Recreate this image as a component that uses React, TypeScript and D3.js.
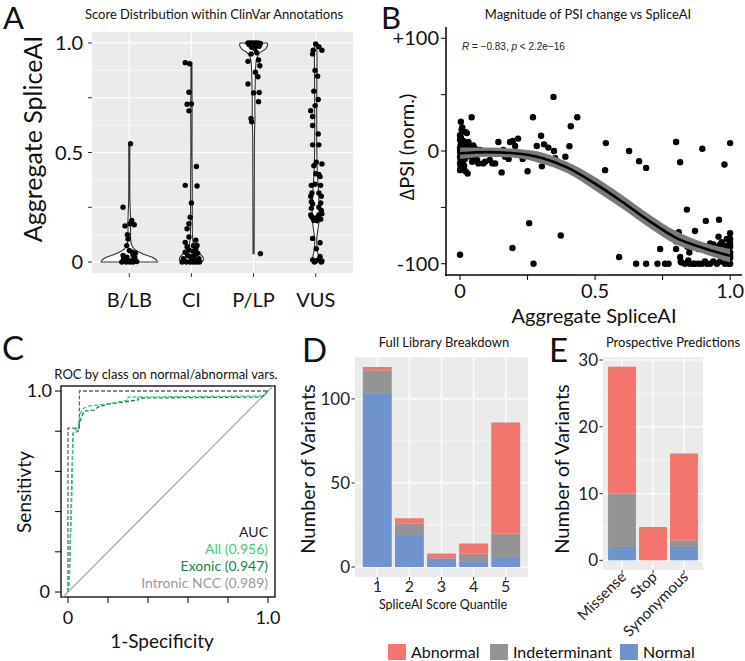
import React, { useEffect, useRef } from 'react';
import * as d3 from 'd3';

const W = 745, H = 661;
const FONT = 'Lato, "Open Sans", sans-serif';

// ---- A: violin of SpliceAI scores per ClinVar class
const clinvarCats = ['B/LB', 'CI', 'P/LP', 'VUS'];
// [jitter offset (category units), score]
const blbPoints = [[0.02,0.54],[-0.1,0.25],[0.04,0.19],[0.01,0.175],[-0.07,0.165],[0.08,0.17],[-0.03,0.125],[-0.02,0.105],[-0.04,0.075],[0,0.053],[0.05,0.045],[-0.1,0.03],[-0.04,0.022],[0.06,0.03],[0.1,0.04],[-0.08,0.01],[-0.02,0.008],[0.03,0.005],[0.08,0.008],[-0.12,0],[0.01,0],[-0.05,0],[0.06,0],[0.12,0.002],[-0.09,0.015],[0.09,0.02]];
const ciPoints = [[-0.1,0.91],[-0.03,0.905],[-0.04,0.775],[-0.07,0.72],[0,0.722],[-0.04,0.69],[0.08,0.436],[-0.1,0.35],[0.09,0.347],[0,0.27],[-0.02,0.205],[-0.04,0.175],[-0.07,0.152],[-0.04,0.114],[-0.1,0.09],[0.07,0.1],[0.09,0.076],[-0.07,0.07],[0.03,0.075],[0.07,0.06],[-0.04,0.055],[0.02,0.05],[-0.1,0.045],[0.1,0.04],[-0.06,0.03],[-0.02,0.025],[0.05,0.03],[-0.13,0.015],[0.12,0.015],[-0.15,0],[-0.08,0],[-0.02,0],[0.03,0],[0.08,0],[0.13,0],[-0.11,0.005],[0.06,0.008],[0,0.01]];
const plpPoints = [[-0.09,1],[-0.05,1],[-0.01,1],[0.03,1],[0.07,1],[0.11,0.998],[-0.07,0.992],[0,0.99],[0.05,0.99],[0.09,0.985],[-0.03,0.98],[0.02,0.975],[-0.04,0.95],[0.05,0.955],[-0.09,0.916],[0.08,0.922],[0.1,0.896],[0.03,0.866],[0.07,0.846],[-0.09,0.813],[0,0.772],[0.09,0.774],[0.08,0.732],[-0.04,0.655],[-0.03,0.64],[0.11,0.038]];
const vusPoints = [[0,0.995],[-0.04,0.967],[-0.05,0.95],[0.05,0.983],[0.1,0.967],[-0.01,0.874],[0.03,0.848],[-0.03,0.78],[0.04,0.742],[-0.01,0.714],[-0.08,0.691],[-0.05,0.664],[-0.05,0.623],[0.04,0.585],[-0.05,0.535],[0.05,0.535],[0.01,0.456],[0.1,0.448],[-0.03,0.44],[0,0.403],[0.05,0.4],[0.07,0.39],[-0.07,0.35],[-0.01,0.355],[0.08,0.35],[-0.06,0.315],[-0.08,0.3],[0.05,0.315],[0.09,0.3],[-0.07,0.275],[0.08,0.27],[-0.05,0.265],[-0.07,0.245],[0.05,0.25],[0.09,0.235],[-0.08,0.215],[-0.06,0.205],[-0.01,0.2],[0.03,0.205],[0.05,0.215],[0.1,0.22],[0.08,0.195],[-0.03,0.19],[0.02,0.188],[-0.05,0.108],[0.07,0.088],[0.01,0.061],[-0.05,0.01],[0,0.005],[0.05,0.012],[0.1,0.005],[0.07,0.025],[0.09,0],[-0.02,0]];
// [score, half width as fraction of max]
const blbViolin = [[0,1],[0.01,0.97],[0.02,0.85],[0.03,0.64],[0.04,0.44],[0.05,0.28],[0.06,0.17],[0.08,0.08],[0.1,0.05],[0.15,0.045],[0.2,0.045],[0.25,0.03],[0.3,0.02],[0.4,0.018],[0.54,0.018]];
const ciViolin = [[0,0.36],[0.008,0.42],[0.02,0.42],[0.035,0.32],[0.05,0.2],[0.068,0.1],[0.09,0.06],[0.115,0.04],[0.2,0.03],[0.35,0.03],[0.5,0.02],[0.7,0.025],[0.8,0.02],[0.91,0.018]];
const plpViolin = [[0.038,0.02],[0.3,0.025],[0.6,0.035],[0.65,0.05],[0.7,0.045],[0.83,0.06],[0.9,0.08],[0.934,0.12],[0.957,0.24],[0.972,0.42],[0.99,0.5],[1,0.48]];
const vusViolin = [[0,0.1],[0.02,0.11],[0.05,0.06],[0.1,0.035],[0.15,0.08],[0.2,0.13],[0.25,0.12],[0.3,0.11],[0.35,0.09],[0.4,0.06],[0.5,0.04],[0.6,0.035],[0.8,0.04],[0.95,0.045],[0.995,0.035]];

// ---- B: delta PSI vs SpliceAI
const psiPoints = [[0.003,26],[0.006,19],[0.019,17],[0.025,16],[0.003,12],[0,10],[0.008,8],[0.003,6],[0.01,5],[0,3],[0.005,2],[0,0],[0.008,-1],[0.002,-2],[0.012,-3],[0,-5],[0.006,-6],[0.002,-8],[0.01,-9],[0,-11],[0.005,-12],[0.002,-14],[0.012,-15],[0.006,-16],[0.02,-18],[0.028,-20],[0,-17],[0.015,-13],[0.018,-7],[0.015,-4],[0.02,1],[0.018,4],[0.012,9],[0,14],[0.008,21],[0,-92],
  [0.031,8],[0.034,4],[0.043,30],[0.049,5],[0.056,2],[0.074,1],[0.056,-2],[0.04,-5],[0.055,-6.5],[0.045,-9.5],[0.068,-11],[0.086,-11],[0.093,-9.5],[0.11,-8],[0.13,-11],[0.063,-8],[0.142,8],[0.16,1],[0.154,-19],[0.12,-11],[0.167,-5],[0.18,-7],
  [0.185,8],[0.196,9],[0.215,11],[0.204,4.4],[0.179,-3],[0.214,-3],[0.232,-7],[0.25,-18],[0.27,30],[0.3,13.5],[0.284,4.4],[0.311,5.9],[0.327,3],[0.348,0],[0.352,-6.4],[0.303,-13.6],[0.346,48],[0.434,30],[0.41,22],[0.405,4.3],[0.39,-5],[0.256,-64],[0.373,-75],[0.194,-86],[0.272,-100],
  [0.54,7],[0.537,-17],[0.626,0],[0.663,-9],[0.689,-15],[0.589,-94],[0.652,-100],[0.689,-100],[0.731,-100],[0.741,-87],[0.759,-100],[0.772,-100],[0.8,8],[0.815,-10],[0.84,-52],[0.91,-62],[0.959,-61],[0.897,2],[0.979,-12],[1,7],[0.87,-71],[0.81,-72],[0.8,-80],[0.8,-87],[0.842,-85],[0.849,-90],[0.883,-87],
  [0.815,-94],[0.817,-98],[0.833,-100],[0.852,-100],[0.864,-100],[0.883,-100],[0.895,-100],[0.907,-98],[0.914,-100],[0.926,-100],[0.938,-98],[0.951,-100],[0.963,-98],[0.969,-94],[0.981,-100],[0.994,-100],[1,-95],[0.994,-91],[0.988,-78],[1,-78],[0.969,-81],[0.926,-82],[0.938,-83],[0.951,-85],[0.963,-83],[0.975,-85],[0.988,-84],[1,-85],[0.981,-89],[0.994,-88],[0.969,-91],[0.957,-89],[0.944,-89],[0.932,-87],[0.92,-89],[0.914,-86],[1,-73],[1,-82],[1,-90],[1,-93],[0.957,-76],[0.82,-99],[0.845,-97],[0.87,-100],[0.99,-97],[1,-100]];
// smoothed fit [x, fit, se]
const psiFit = [[0,-2,5],[0.1,-1,4],[0.2,-2,4],[0.3,-6,5],[0.4,-15,5],[0.5,-29,6],[0.6,-45,6],[0.7,-62,6],[0.8,-77,6],[0.9,-86,5],[1,-93,6]];

// ---- C: ROC curves
const rocAll = [[0,0],[0.005,0.03],[0.01,0.2],[0.02,0.5],[0.025,0.78],[0.03,0.8],[0.05,0.82],[0.06,0.88],[0.07,0.91],[0.1,0.925],[0.15,0.93],[0.22,0.94],[0.3,0.955],[0.3,0.97],[0.98,0.975],[1,1]];
const rocExonic = [[0,0],[0.008,0.1],[0.015,0.4],[0.025,0.79],[0.05,0.8],[0.06,0.85],[0.08,0.9],[0.13,0.905],[0.15,0.92],[0.2,0.935],[0.35,0.955],[0.35,0.965],[0.97,0.97],[1,1]];
const rocIntronic = [[0,0],[0,0.815],[0.057,0.815],[0.057,1],[1,1]];
const aucLabels = ['AUC', 'All (0.956)', 'Exonic (0.947)', 'Intronic NCC (0.989)'];

// ---- D / E: stacked counts
const quantiles = ['1', '2', '3', '4', '5'];
const libNormal = [103, 19, 5, 3, 6];
const libIndet = [14, 7, 1, 5, 14];
const libAbnormal = [2, 3, 2, 6, 66];
const predCats = ['Missense', 'Stop', 'Synonymous'];
const predNormal = [2, 0, 2];
const predIndet = [8, 0, 1];
const predAbnormal = [19, 5, 13];
const classKeys = ['Normal', 'Indeterminant', 'Abnormal'];
const classColors = ['#6F94CD', '#949494', '#F4756E'];

function App() {
  const ref = useRef(null);

  useEffect(() => {
    const svg = d3.select(ref.current);
    svg.selectAll('*').remove();

    const txt = (g, x, y, s, size, opts: any = {}) =>
      g.append('text').attr('x', x).attr('y', y).text(s)
        .attr('font-family', opts.family || FONT).attr('font-size', size)
        .attr('fill', opts.fill || '#111').attr('text-anchor', opts.anchor || 'start')
        .attr('transform', opts.rotate ? `rotate(${opts.rotate},${x},${y})` : null);

    // panel letters
    [['A', 3, 29, 31], ['B', 381, 29, 31], ['C', 2, 360, 33], ['D', 302, 362, 33], ['E', 549, 362, 33]].forEach(([l, x, y, fs]) =>
      txt(svg, x, y, l, fs));

    // ================= A =================
    {
      const g = svg.append('g');
      const x = d3.scalePoint().domain(clinvarCats).range([92, 353]).padding(0.6);
      const y = d3.scaleLinear().domain([-0.05, 1.05]).range([273, 32]);
      const step = x.step();
      g.append('rect').attr('x', 92).attr('y', 32).attr('width', 261).attr('height', 241).attr('fill', '#EBEBEB');
      [0.125, 0.375, 0.625, 0.875].forEach(v => g.append('line').attr('x1', 92).attr('x2', 353).attr('y1', y(v)).attr('y2', y(v)).attr('stroke', '#fff').attr('stroke-width', 0.6));
      [0, 0.25, 0.5, 0.75, 1].forEach(v => g.append('line').attr('x1', 92).attr('x2', 353).attr('y1', y(v)).attr('y2', y(v)).attr('stroke', '#fff').attr('stroke-width', 1.2));
      clinvarCats.forEach(c => g.append('line').attr('x1', x(c)).attr('x2', x(c)).attr('y1', 32).attr('y2', 273).attr('stroke', '#fff').attr('stroke-width', 1.2));
      [0, 0.25, 0.5, 0.75, 1].forEach(v => g.append('line').attr('x1', 88).attr('x2', 92).attr('y1', y(v)).attr('y2', y(v)).attr('stroke', '#333'));
      [[0, '0'], [0.5, '0.5'], [1, '1.0']].forEach(([v, s]) => txt(g, 83, y(v) + 7, s, 20, { anchor: 'end' }));
      clinvarCats.forEach(c => {
        g.append('line').attr('x1', x(c)).attr('x2', x(c)).attr('y1', 273).attr('y2', 277).attr('stroke', '#333');
        txt(g, x(c), 307, c, 20, { anchor: 'middle' });
      });
      txt(g, 42, 139, 'Aggregate SpliceAI', 25, { anchor: 'middle', rotate: -90 });
      txt(g, 214, 19, 'Score Distribution within ClinVar Annotations', 13, { anchor: 'middle' });

      const wScale = d3.scaleLinear().domain([0, 1]).range([0, 0.45 * step]);
      const profiles = [blbViolin, ciViolin, plpViolin, vusViolin];
      const pts = [blbPoints, ciPoints, plpPoints, vusPoints];
      clinvarCats.forEach((c, i) => {
        const cx = x(c);
        const area = d3.area().y(d => y(d[0])).x0(d => cx - wScale(d[1])).x1(d => cx + wScale(d[1])).curve(d3.curveCatmullRom);
        g.append('path').attr('d', area(profiles[i])).attr('fill', '#fff').attr('stroke', '#333').attr('stroke-width', 1.1);
      });
      clinvarCats.forEach((c, i) => {
        g.selectAll(null).data(pts[i]).enter().append('circle')
          .attr('cx', d => x(c) + d[0] * step).attr('cy', d => y(d[1])).attr('r', 2.7).attr('fill', '#000');
      });
    }

    // ================= B =================
    {
      const g = svg.append('g');
      const x = d3.scaleLinear().domain([-0.052, 1.044]).range([446, 742]);
      const y = d3.scaleLinear().domain([-110, 110]).range([275, 27]);
      const band = d3.area().x(d => x(d[0])).y0(d => y(d[1] - d[2])).y1(d => y(d[1] + d[2])).curve(d3.curveMonotoneX);
      const fit = d3.line().x(d => x(d[0])).y(d => y(d[1])).curve(d3.curveMonotoneX);
      g.selectAll(null).data(psiPoints).enter().append('circle')
        .attr('cx', d => x(d[0])).attr('cy', d => y(d[1])).attr('r', 3.2).attr('fill', '#000');
      g.append('path').attr('d', band(psiFit)).attr('fill', '#7a7a7a');
      g.append('path').attr('d', fit(psiFit)).attr('fill', 'none').attr('stroke', '#000').attr('stroke-width', 2.6);
      g.append('line').attr('x1', 446).attr('x2', 446).attr('y1', 27).attr('y2', 276).attr('stroke', '#000').attr('stroke-width', 1.5);
      g.append('line').attr('x1', 445).attr('x2', 742).attr('y1', 275).attr('y2', 275).attr('stroke', '#000').attr('stroke-width', 1.5);
      [-100, -50, 0, 50, 100].forEach(v => g.append('line').attr('x1', 441).attr('x2', 446).attr('y1', y(v)).attr('y2', y(v)).attr('stroke', '#000'));
      [[-100, '-100'], [0, '0'], [100, '+100']].forEach(([v, s]) => txt(g, 439, y(v) + 7, s, 20, { anchor: 'end' }));
      [0, 0.25, 0.5, 0.75, 1].forEach(v => g.append('line').attr('x1', x(v)).attr('x2', x(v)).attr('y1', 275).attr('y2', 280).attr('stroke', '#000'));
      [[0, '0'], [0.5, '0.5'], [1, '1.0']].forEach(([v, s]) => txt(g, x(v), 298, s, 20, { anchor: 'middle' }));
      txt(g, 594, 323, 'Aggregate SpliceAI', 20, { anchor: 'middle' });
      txt(g, 414, 147, '\u2206PSI (norm.)', 20, { anchor: 'middle', rotate: -90 });
      txt(g, 588, 19, 'Magnitude of PSI change vs SpliceAI', 13, { anchor: 'middle' });
      const t = g.append('text').attr('x', 462).attr('y', 50).attr('font-family', '"Liberation Sans", Arial, sans-serif').attr('font-size', 10).attr('fill', '#222');
      t.append('tspan').attr('font-style', 'italic').text('R');
      t.append('tspan').text(' = \u22120.83, ');
      t.append('tspan').attr('font-style', 'italic').text('p');
      t.append('tspan').text(' < 2.2e\u221216');
    }

    // ================= C =================
    {
      const g = svg.append('g');
      const x = d3.scaleLinear().domain([0, 1]).range([68, 268]);
      const y = d3.scaleLinear().domain([0, 1]).range([592, 391]);
      g.append('rect').attr('x', 61).attr('y', 386).attr('width', 214).attr('height', 211).attr('fill', '#fff').attr('stroke', '#000').attr('stroke-width', 1.3);
      g.append('line').attr('x1', x(-0.025)).attr('y1', y(-0.025)).attr('x2', x(1.025)).attr('y2', y(1.025)).attr('stroke', '#aaa').attr('stroke-width', 1.3);
      const line = d3.line().x(d => x(d[0])).y(d => y(d[1]));
      [[rocIntronic, '#666'], [rocExonic, '#1E8050'], [rocAll, '#3CCB78']].forEach(([data, col]) =>
        g.append('path').attr('d', line(data)).attr('fill', 'none').attr('stroke', col).attr('stroke-width', 1.3).attr('stroke-dasharray', '4,2'));
      d3.range(0, 1.01, 0.2).forEach(v => {
        g.append('line').attr('x1', 55).attr('x2', 61).attr('y1', y(v)).attr('y2', y(v)).attr('stroke', '#000');
        g.append('line').attr('x1', x(v)).attr('x2', x(v)).attr('y1', 597).attr('y2', 603).attr('stroke', '#000');
      });
      txt(g, 52, y(1) + 6, '1.0', 18, { anchor: 'end' });
      txt(g, 50, y(0) + 6, '0', 18, { anchor: 'end' });
      txt(g, x(0), 624, '0', 18, { anchor: 'middle' });
      txt(g, x(1), 624, '1.0', 18, { anchor: 'middle' });
      txt(g, 162, 648, '1-Specificity', 19, { anchor: 'middle' });
      txt(g, 31, 492, 'Sensitivty', 19, { anchor: 'middle', rotate: -90 });
      txt(g, 166, 379, 'ROC by class on normal/abnormal vars.', 13, { anchor: 'middle' });
      const cols = ['#222', '#3CCB78', '#1E7E4A', '#9a9a9a'];
      aucLabels.forEach((s, i) => txt(g, 268, 537 + i * 17, s, 14, { anchor: 'end', fill: cols[i] }));
    }

    // ================= D / E =================
    const stacked = (g, cats, series, x0, x1, y0, y1, pad, minorStep, majorStep) => {
      const rows = cats.map((c, i) => ({ cat: c, Normal: series[0][i], Indeterminant: series[1][i], Abnormal: series[2][i] }));
      const layers = d3.stack().keys(classKeys)(rows);
      const maxV = d3.max(rows, r => r.Normal + r.Indeterminant + r.Abnormal);
      const x = d3.scaleBand().domain(cats).range([x0, x1]).paddingInner(0.1).paddingOuter(pad);
      const y = d3.scaleLinear().domain([-0.05 * maxV, maxV * 1.05]).range([y1, y0]);
      g.append('rect').attr('x', x0).attr('y', y0).attr('width', x1 - x0).attr('height', y1 - y0).attr('fill', '#EBEBEB');
      d3.range(0, maxV * 1.05, minorStep).forEach(v => g.append('line').attr('x1', x0).attr('x2', x1).attr('y1', y(v)).attr('y2', y(v))
        .attr('stroke', '#fff').attr('stroke-width', v % majorStep === 0 ? 1.2 : 0.6));
      cats.forEach(c => g.append('line').attr('x1', x(c) + x.bandwidth() / 2).attr('x2', x(c) + x.bandwidth() / 2).attr('y1', y0).attr('y2', y1).attr('stroke', '#fff').attr('stroke-width', 1.2));
      layers.forEach((layer, k) => {
        g.selectAll(null).data(layer).enter().append('rect')
          .attr('x', d => x(d.data.cat)).attr('width', x.bandwidth())
          .attr('y', d => y(d[1])).attr('height', d => y(d[0]) - y(d[1])).attr('fill', classColors[k]);
      });
      d3.range(0, maxV * 1.05, majorStep).forEach(v => {
        g.append('line').attr('x1', x0 - 3.5).attr('x2', x0).attr('y1', y(v)).attr('y2', y(v)).attr('stroke', '#333');
        txt(g, x0 - 5, y(v) + 6, String(v), 17, { anchor: 'end', fill: '#222' });
      });
      cats.forEach(c => g.append('line').attr('x1', x(c) + x.bandwidth() / 2).attr('x2', x(c) + x.bandwidth() / 2).attr('y1', y1).attr('y2', y1 + 3.5).attr('stroke', '#333'));
      return x;
    };
    {
      const g = svg.append('g');
      const x = stacked(g, quantiles, [libNormal, libIndet, libAbnormal], 355, 528, 357, 577, 0.245, 25, 50);
      quantiles.forEach(c => txt(g, x(c) + x.bandwidth() / 2, 592, c, 16, { anchor: 'middle', fill: '#222' }));
      txt(g, 443, 609, 'SpliceAI Score Quantile', 12.5, { anchor: 'middle' });
      txt(g, 315, 469, 'Number of Variants', 20, { anchor: 'middle', rotate: -90 });
      txt(g, 444, 347, 'Full Library Breakdown', 13, { anchor: 'middle' });
    }
    {
      const g = svg.append('g');
      const x = stacked(g, predCats, [predNormal, predIndet, predAbnormal], 603, 703, 357, 570, 0.163, 5, 10);
      predCats.forEach(c => txt(g, x(c) + x.bandwidth() / 2 + 5, 578, c, 15, { anchor: 'end', fill: '#222', rotate: -45 }));
      txt(g, 569, 469, 'Number of Variants', 20, { anchor: 'middle', rotate: -90 });
      txt(g, 673, 347, 'Prospective Predictions', 13, { anchor: 'middle' });
    }

    // legend
    {
      const g = svg.append('g');
      const items = [['Abnormal', classColors[2], 388], ['Indeterminant', classColors[1], 490], ['Normal', classColors[0], 620]];
      items.forEach(([s, col, lx]) => {
        g.append('rect').attr('x', lx).attr('y', 644).attr('width', 18).attr('height', 16).attr('fill', col);
        txt(g, lx + 23, 658, s, 16, { fill: '#111' });
      });
    }
  }, []);

  return (
    <svg ref={ref} width={W} height={H} style={{ position: 'absolute', left: 0, top: 0, background: '#fff' }} />
  );
}

export default App;
